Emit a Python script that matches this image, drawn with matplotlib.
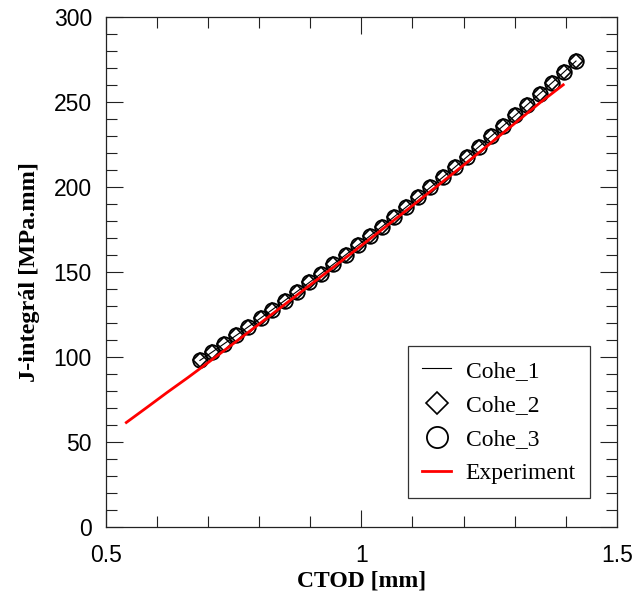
import matplotlib
matplotlib.use("Agg")
import matplotlib.pyplot as plt
from matplotlib.ticker import MultipleLocator

# cohesive model results (Cohe_1, Cohe_2, Cohe_3 lie on top of each other)
cohe_x = [0.684, 0.708, 0.731, 0.755, 0.779, 0.803, 0.826, 0.850, 0.874, 0.898,
          0.921, 0.945, 0.969, 0.993, 1.016, 1.040, 1.064, 1.088, 1.111, 1.135,
          1.159, 1.183, 1.206, 1.230, 1.254, 1.278, 1.301, 1.325, 1.349, 1.373,
          1.396, 1.420]
cohe_y = [98.0, 102.9, 107.7, 112.7, 117.8, 122.9, 127.9, 133.2, 138.5, 143.8,
          149.0, 154.5, 160.0, 165.6, 171.0, 176.6, 182.4, 188.2, 193.8, 199.7,
          205.6, 211.6, 217.5, 223.6, 229.8, 236.0, 242.0, 248.4, 254.8, 261.2,
          267.4, 274.0]

# experiment
exp_x = [0.540, 0.580, 0.620, 0.660, 0.700, 0.750, 0.800, 0.850, 0.900, 0.950,
         1.000, 1.050, 1.100, 1.150, 1.200, 1.250, 1.300, 1.350, 1.395]
exp_y = [61.5, 70.3, 79.2, 87.8, 96.7, 108.0, 119.4, 130.9, 142.4, 153.9,
         165.5, 177.2, 189.0, 200.9, 212.8, 225.0, 237.3, 249.6, 260.0]

fig = plt.figure(figsize=(6.34, 5.99), dpi=100)
ax = fig.add_axes([0.167, 0.120, 0.806, 0.852])

ax.plot(cohe_x, cohe_y, color="black", lw=0.8, label="Cohe_1")
ax.plot(cohe_x, cohe_y, ls="none", marker="D", ms=7.5, mfc="none", mec="black",
        mew=1.2, label="Cohe_2")
ax.plot(cohe_x, cohe_y, ls="none", marker="o", ms=10.5, mfc="none", mec="black",
        mew=1.3, label="Cohe_3")
ax.plot(exp_x, exp_y, color="red", lw=2.0, label="Experiment")

ax.set_xlim(0.5, 1.5)
ax.set_ylim(0, 300)
ax.xaxis.set_major_locator(MultipleLocator(0.5))
ax.xaxis.set_minor_locator(MultipleLocator(0.1))
ax.yaxis.set_major_locator(MultipleLocator(50))
ax.yaxis.set_minor_locator(MultipleLocator(10))
ax.xaxis.set_major_formatter(plt.FuncFormatter(lambda v, p: f"{v:g}"))

ax.tick_params(which="both", direction="in", top=True, right=True,
               width=0.8, colors="#222222", labelcolor="black",
               labelsize=16.5, labelfontfamily="Liberation Sans")
ax.tick_params(which="major", length=12)
ax.tick_params(which="minor", length=8)
ax.tick_params(axis="x", which="major", pad=12)
ax.tick_params(axis="y", which="major", pad=10)
for s in ax.spines.values():
    s.set_linewidth(0.9)
    s.set_color("#222222")

ax.set_xlabel("CTOD [mm]", fontsize=17, fontweight="bold",
              family="Liberation Serif", labelpad=3)
ax.set_ylabel("J-integrál [MPa.mm]", fontsize=17.5, fontweight="bold",
              family="Liberation Serif", labelpad=10)

leg = ax.legend(loc="lower right", bbox_to_anchor=(0.947, 0.057),
                prop={"family": "Liberation Serif", "size": 17},
                frameon=True, fancybox=False, edgecolor="black",
                markerscale=1.45, handlelength=1.25, borderpad=0.6,
                labelspacing=0.53, handletextpad=0.6, borderaxespad=0)
leg.get_frame().set_linewidth(0.9)

fig.savefig("out.png", dpi=100)
